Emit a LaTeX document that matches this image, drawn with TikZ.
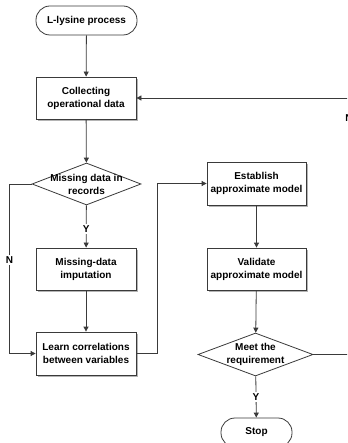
\documentclass[tikz,border=0pt]{standalone}
\usepackage{fontspec}
\setmainfont{Liberation Sans}
\usetikzlibrary{shapes.geometric,shadows,arrows.meta}
\definecolor{linegray}{HTML}{3A3A3A}
\definecolor{shadowgray}{HTML}{B4B4B4}
\begin{document}
\begin{tikzpicture}[x=1pt,y=-1pt,
  every node/.style={font=\fontsize{10}{13}\selectfont\bfseries, align=center},
  flow/.style={draw=linegray, line width=0.8pt, -{Triangle[length=5pt,width=5pt]}},
  procbox/.style={draw=linegray, line width=0.8pt, fill=white, minimum width=100pt, minimum height=42pt, inner sep=0pt,
    drop shadow={shadow xshift=2pt, shadow yshift=-2pt, fill=shadowgray, opacity=1}},
  term/.style={draw=linegray, line width=0.8pt, fill=white, rounded corners=14pt, inner sep=0pt, minimum height=29pt},
  decision/.style={diamond, draw=linegray, line width=0.8pt, fill=white, inner sep=0pt},
  tag/.style={fill=white, inner sep=1.5pt}
]
\useasboundingbox (0,0) rectangle (347,443);
\clip (0,0) rectangle (347,443);

% left column
\node[term, minimum width=101pt] (start) at (86.5,20.5) {L-lysine process};
\node[procbox] (collect) at (86,98) {Collecting\\operational data};
\node[decision, minimum width=109pt, minimum height=42pt] (miss) at (86.5,184) {};
\node (misstxt) at (86.5,184) {Missing data in\\records};
\node[procbox] (imp) at (86,269) {Missing-data\\imputation};
\node[procbox, minimum height=43pt] (learn) at (86,353.5) {Learn correlations\\between variables};

% right column
\node[procbox, minimum width=99pt, minimum height=43pt] (est) at (256.5,183.5) {Establish\\approximate model};
\node[procbox, minimum width=99pt] (val) at (256.5,269) {Validate\\approximate model};
\node[decision, minimum width=115pt, minimum height=43pt] (meet) at (255.5,354.5) {};
\node (meettxt) at (255.5,354.5) {Meet the\\requirement};
\node[term, minimum width=71pt] (stop) at (256.5,432.5) {Stop};

% routing points
\coordinate (nleft) at (9.5,184);
\coordinate (nbot) at (9.5,353.5);
\coordinate (lright) at (157,353.5);
\coordinate (ltop) at (157,183.5);
\coordinate (rbot) at (362,354.5);
\coordinate (rtop) at (362,98);

% connectors
\draw[flow] (start) -- (collect);
\draw[flow] (collect) -- (miss);
\draw[flow] (miss) -- node[tag, pos=0.55] (ylab1) {Y} (imp);
\draw[flow] (imp) -- (learn);
\draw[flow] (miss.west) -- (nleft) -- node[tag, pos=0.45] (nlab1) {N} (nbot) -- (learn.west);
\draw[flow] (learn.east) -- (lright) -- (ltop) -- (est.west);
\draw[flow] (est) -- (val);
\draw[flow] (val) -- (meet);
\draw[flow] (meet) -- node[tag, pos=0.5] (ylab2) {Y} (stop);
\draw[flow] (meet.east) -- (rbot) -- (rtop) -- (collect.east);
\node[tag] (nlab2) at (349,118) {N};
\end{tikzpicture}
\end{document}
